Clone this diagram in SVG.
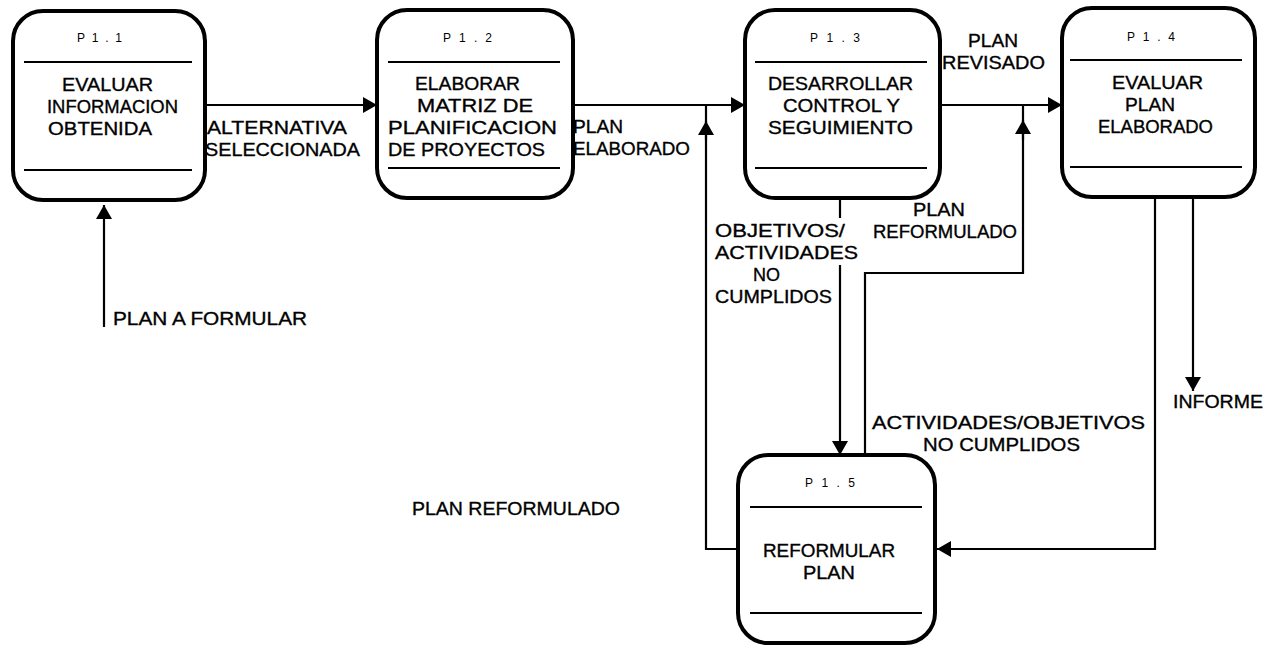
<svg xmlns="http://www.w3.org/2000/svg" width="1271" height="646" viewBox="0 0 1271 646">
<style>
.box{fill:#fff;stroke:#000;stroke-width:4}
.sep{stroke:#000;stroke-width:2}
.pid{font-family:"Liberation Sans",Arial,sans-serif;font-size:12px;fill:#000}
.t{font-family:"Liberation Sans",Arial,sans-serif;font-size:19px;fill:#000;stroke:#000;stroke-width:0.35}
.l{font-family:"Liberation Sans",Arial,sans-serif;font-size:19px;fill:#000;stroke:#000;stroke-width:0.35}
.c{fill:none;stroke:#000;stroke-width:2.2}
</style>
<defs>
<marker id="ah" viewBox="0 0 14 16" refX="14" refY="8" markerWidth="14" markerHeight="16" markerUnits="userSpaceOnUse" orient="auto">
<path d="M0,0 L14,8 L0,16 z" fill="#000"/>
</marker>
</defs>
<rect x="0" y="0" width="1271" height="646" fill="#fff"/>

<g id="connectors">
<path class="c" d="M205,105 H377" marker-end="url(#ah)"/>
<path class="c" d="M573,105 H745" marker-end="url(#ah)"/>
<path class="c" d="M940,105 H1062" marker-end="url(#ah)"/>
<path class="c" d="M104,327 V205" marker-end="url(#ah)"/>
<path class="c" d="M840,198 V218 M840,265 V455" marker-end="url(#ah)"/>
<path class="c" d="M738,549 H706 V105"/>
<path class="c" d="M706,140 V121" marker-end="url(#ah)"/>
<path class="c" d="M865,455 V273 H1023 V105"/>
<path class="c" d="M1023,140 V120" marker-end="url(#ah)"/>
<path class="c" d="M1155,197 V549 H937" marker-end="url(#ah)"/>
<path class="c" d="M1193,197 V391" marker-end="url(#ah)"/>
</g>

<g id="labels">
<text class="l" x="207" y="134" textLength="140" lengthAdjust="spacingAndGlyphs">ALTERNATIVA</text>
<text class="l" x="205" y="156" textLength="155" lengthAdjust="spacingAndGlyphs">SELECCIONADA</text>
<text class="l" x="573" y="133" textLength="50" lengthAdjust="spacingAndGlyphs">PLAN</text>
<text class="l" x="573" y="155" textLength="117" lengthAdjust="spacingAndGlyphs">ELABORADO</text>
<text class="l" x="968" y="47" textLength="50" lengthAdjust="spacingAndGlyphs">PLAN</text>
<text class="l" x="942" y="69" textLength="103" lengthAdjust="spacingAndGlyphs">REVISADO</text>
<text class="l" x="913" y="216" textLength="52" lengthAdjust="spacingAndGlyphs">PLAN</text>
<text class="l" x="873" y="238" textLength="144" lengthAdjust="spacingAndGlyphs">REFORMULADO</text>
<text class="l" x="715" y="237" textLength="130" lengthAdjust="spacingAndGlyphs">OBJETIVOS/</text>
<text class="l" x="715" y="259" textLength="143" lengthAdjust="spacingAndGlyphs">ACTIVIDADES</text>
<text class="l" x="753" y="281" textLength="27" lengthAdjust="spacingAndGlyphs">NO</text>
<text class="l" x="715" y="303" textLength="117" lengthAdjust="spacingAndGlyphs">CUMPLIDOS</text>
<text class="l" x="872" y="429" textLength="273" lengthAdjust="spacingAndGlyphs">ACTIVIDADES/OBJETIVOS</text>
<text class="l" x="923" y="451" textLength="157" lengthAdjust="spacingAndGlyphs">NO CUMPLIDOS</text>
<text class="l" x="1173" y="408" textLength="90" lengthAdjust="spacingAndGlyphs">INFORME</text>
<text class="l" x="113" y="325" textLength="194" lengthAdjust="spacingAndGlyphs">PLAN A FORMULAR</text>
<text class="l" x="412" y="515" textLength="208" lengthAdjust="spacingAndGlyphs">PLAN REFORMULADO</text>
</g>

<g id="p1_1">
<rect class="box" x="13" y="11" width="192" height="189" rx="30"/>
<text class="pid" x="77" y="42" textLength="45" lengthAdjust="spacing">P1.1</text>
<line class="sep" x1="24" y1="62" x2="192" y2="62"/>
<line class="sep" x1="24" y1="170" x2="192" y2="170"/>
<text class="t" x="62" y="91" textLength="91" lengthAdjust="spacingAndGlyphs">EVALUAR</text>
<text class="t" x="47" y="113" textLength="131" lengthAdjust="spacingAndGlyphs">INFORMACION</text>
<text class="t" x="48" y="135" textLength="104" lengthAdjust="spacingAndGlyphs">OBTENIDA</text>
</g>

<g id="p1_2">
<rect class="box" x="377" y="10" width="196" height="188" rx="30"/>
<text class="pid" x="443" y="42" textLength="49" lengthAdjust="spacing">P1.2</text>
<line class="sep" x1="388" y1="62" x2="560" y2="62"/>
<line class="sep" x1="388" y1="168" x2="560" y2="168"/>
<text class="t" x="415" y="90" textLength="105" lengthAdjust="spacingAndGlyphs">ELABORAR</text>
<text class="t" x="417" y="112" textLength="116" lengthAdjust="spacingAndGlyphs">MATRIZ DE</text>
<text class="t" x="388" y="134" textLength="169" lengthAdjust="spacingAndGlyphs">PLANIFICACION</text>
<text class="t" x="388" y="156" textLength="157" lengthAdjust="spacingAndGlyphs">DE PROYECTOS</text>
</g>

<g id="p1_3">
<rect class="box" x="745" y="10" width="195" height="188" rx="30"/>
<text class="pid" x="810" y="42" textLength="50" lengthAdjust="spacing">P1.3</text>
<line class="sep" x1="755" y1="62" x2="927" y2="62"/>
<line class="sep" x1="755" y1="168" x2="927" y2="168"/>
<text class="t" x="768" y="90" textLength="145" lengthAdjust="spacingAndGlyphs">DESARROLLAR</text>
<text class="t" x="783" y="112" textLength="117" lengthAdjust="spacingAndGlyphs">CONTROL Y</text>
<text class="t" x="768" y="134" textLength="145" lengthAdjust="spacingAndGlyphs">SEGUIMIENTO</text>
</g>

<g id="p1_4">
<rect class="box" x="1062" y="8" width="193" height="189" rx="30"/>
<text class="pid" x="1127" y="41" textLength="48" lengthAdjust="spacing">P1.4</text>
<line class="sep" x1="1070" y1="60" x2="1242" y2="60"/>
<line class="sep" x1="1070" y1="167" x2="1242" y2="167"/>
<text class="t" x="1112" y="89" textLength="91" lengthAdjust="spacingAndGlyphs">EVALUAR</text>
<text class="t" x="1125" y="111" textLength="50" lengthAdjust="spacingAndGlyphs">PLAN</text>
<text class="t" x="1098" y="133" textLength="115" lengthAdjust="spacingAndGlyphs">ELABORADO</text>
</g>

<g id="p1_5">
<rect class="box" x="738" y="455" width="197" height="188" rx="30"/>
<text class="pid" x="805" y="487" textLength="50" lengthAdjust="spacing">P1.5</text>
<line class="sep" x1="750" y1="507" x2="922" y2="507"/>
<line class="sep" x1="750" y1="613" x2="922" y2="613"/>
<text class="t" x="763" y="557" textLength="132" lengthAdjust="spacingAndGlyphs">REFORMULAR</text>
<text class="t" x="803" y="579" textLength="52" lengthAdjust="spacingAndGlyphs">PLAN</text>
</g>
</svg>
